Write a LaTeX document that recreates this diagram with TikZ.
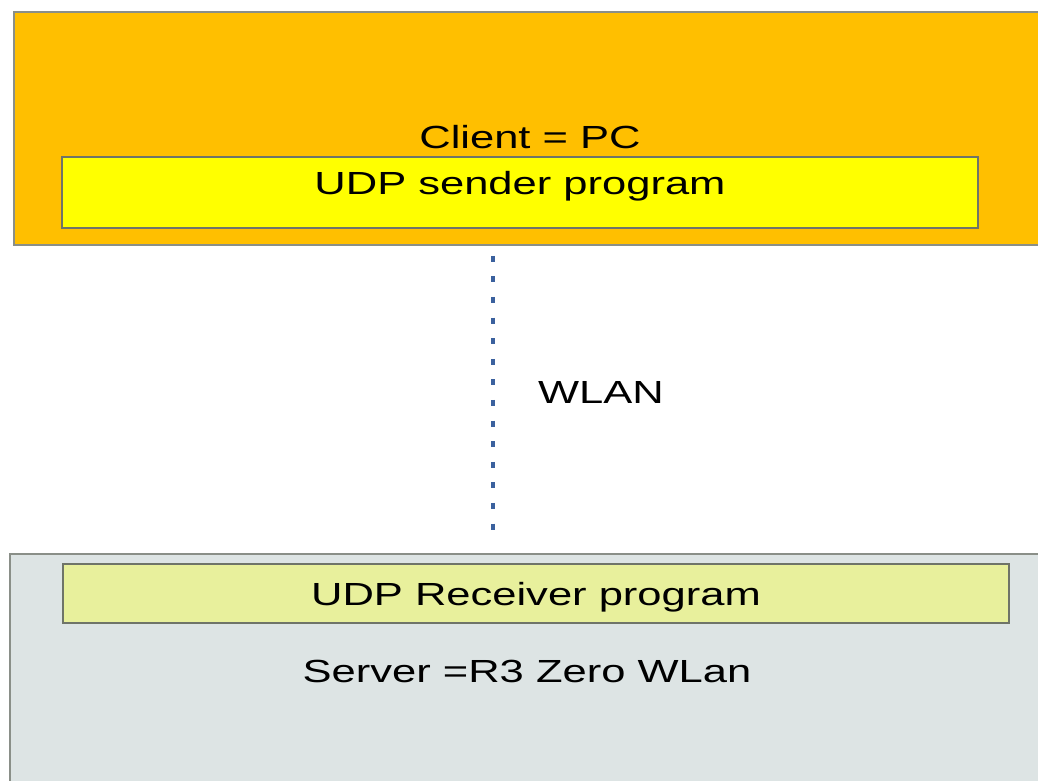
\documentclass[tikz,border=0pt]{standalone}
\usepackage{fontspec}
\setsansfont{Liberation Sans}[FakeStretch=1.36]
\usetikzlibrary{positioning}

\definecolor{clientorange}{HTML}{FFBF00}
\definecolor{senderyellow}{HTML}{FFFF00}
\definecolor{servergray}{HTML}{DDE4E4}
\definecolor{receiveryellow}{HTML}{E8F09C}
\definecolor{framegray}{HTML}{8A8F88}
\definecolor{progframe}{HTML}{6F7468}
\definecolor{wlanblue}{HTML}{3B619E}

\begin{document}
\begin{tikzpicture}[x=1pt,y=-1pt,font=\sffamily\fontsize{32}{38}\selectfont]
    \tikzstyle{host} = [rectangle,draw=framegray,line width=1.5pt,inner sep=0pt]
    \tikzstyle{prog} = [rectangle,draw=progframe,line width=1.5pt,inner sep=0pt,text centered]
    \tikzstyle{wlan} = [draw=wlanblue,line width=4pt,dash pattern=on 6pt off 14.6pt]

    \useasboundingbox [fill=white] (0,0) rectangle (1038,780);

    % client side
    \node (client) [host,fill=clientorange,minimum width=1031pt,minimum height=233pt] at (529.5,128.5) {};
    \node (sender) [prog,fill=senderyellow,minimum width=916pt,minimum height=71pt,text height=18pt,text depth=15pt] at (520,192.5) {UDP sender program};
    \node (clientlabel) [anchor=base] at (530,148) {Client = PC};

    % server side
    \node (server) [host,fill=servergray,minimum width=1035pt,minimum height=236pt] at (527.5,672) {};
    \node (receiver) [prog,fill=receiveryellow,minimum width=946pt,minimum height=59pt,text height=23pt,text depth=0pt] at (536,593.5) {UDP Receiver program};
    \node (serverlabel) [anchor=base] at (527,682) {Server =R3 Zero WLan};

    % link
    \draw [wlan] ([xshift=-36.5pt,yshift=-10pt]client.south) -- ([xshift=-34.5pt,yshift=23pt]server.north);
    \node (wlanlabel) [anchor=base] at (601,403) {WLAN};
\end{tikzpicture}
\end{document}
